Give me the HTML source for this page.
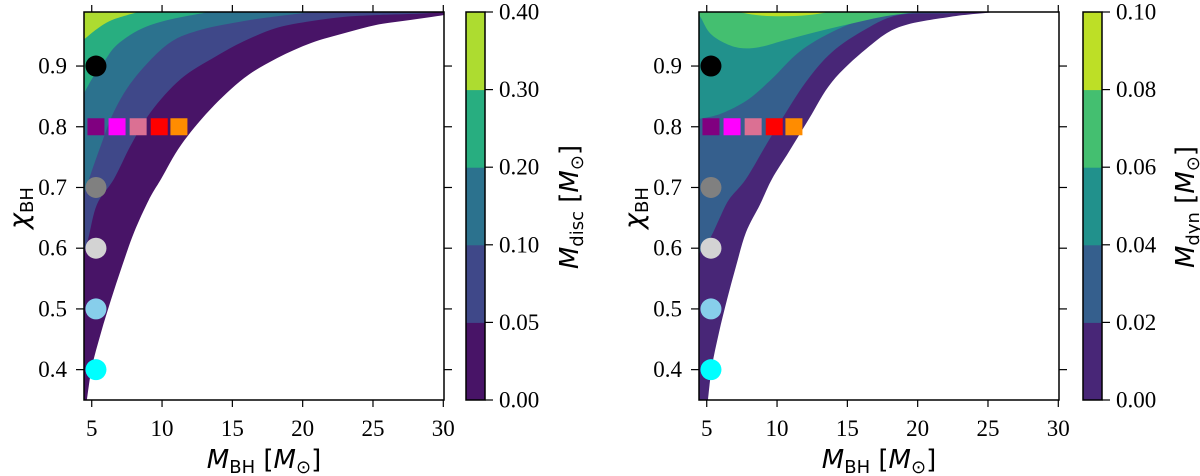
<!DOCTYPE html>
<html><head><meta charset="utf-8"><style>
html,body{margin:0;padding:0;background:#fff;width:1200px;height:476px;overflow:hidden}
</style></head><body>
<svg id="fig" width="1200" height="476" xmlns="http://www.w3.org/2000/svg"></svg>
<script>
// ---- data ----
const xTicks=[5,10,15,20,25,30];
const yTicks=[0.4,0.5,0.6,0.7,0.8,0.9];
const circleChi=[0.9,0.7,0.6,0.5,0.4];
const circleColors=["#000000","#808080","#d3d3d3","#87ceeb","#00ffff"];
const circleM=5.3;
const squareM=[5.3,6.8,8.3,9.8,11.2];
const squareColors=["#800080","#ff00ff","#db7093","#ff0000","#ff8c00"];
const squareChi=0.8;
// left panel boundaries (M, chi)
const discOuterM=[31.19,30.05,27.71,25.29,22.94,20.6,18.18,15.83,13.41,11.35,9.93,9.07,8.01,7.15,6.37,5.66,5.02,4.66,4.59];
const discOuterChi=[0.991,0.984,0.976,0.968,0.954,0.938,0.913,0.880,0.828,0.770,0.714,0.680,0.626,0.570,0.515,0.461,0.405,0.351,0.334];
const discLevelsM=[
 [30.13,28.85,25.29,22.94,20.6,18.18,15.83,13.77,11.35,9.22,7.79,6.58,5.37,4.73,4.17],
 [21.95,18.18,15.55,12.49,10.35,8.01,6.58,5.66,4.81,4.02],
 [14.12,10.64,8.50,6.80,5.87,5.02,4.02],
 [8.79,6.58,5.37,4.02]];
const discLevelsChi=[
 [0.991,0.987,0.984,0.981,0.974,0.963,0.941,0.915,0.879,0.825,0.770,0.714,0.672,0.614,0.573],
 [0.992,0.982,0.973,0.958,0.935,0.879,0.825,0.770,0.714,0.655],
 [0.992,0.977,0.961,0.935,0.907,0.879,0.836],
 [0.992,0.977,0.961,0.935]];
const discColors=["#481467","#3f4889","#2c728e","#28ae80","#addc30"];
const discTicks=["0.00","0.05","0.10","0.20","0.30","0.40"];
// right panel
const dynOuterM=[25.86,25.50,22.3,18.67,16.33,13.91,12.27,10.85,9.64,8.79,7.79,7.08,6.44,5.87,5.37,5.09,5.02];
const dynOuterChi=[0.991,0.989,0.981,0.964,0.928,0.874,0.813,0.759,0.714,0.672,0.626,0.570,0.515,0.461,0.405,0.351,0.334];
const dynLevelsM=[
 [25.15,22.3,18.67,16.33,13.91,12.06,10.35,9.22,7.79,6.58,5.87,5.30,4.66,3.81],
 [20.17,16.33,13.91,11.56,9.64,8.01,6.37,5.16,3.81],
 [3.81,4.45,5.16,6.09,7.30,8.72,10.64,12.77,15.12,17.46,19.88,20.88],
 [6.65,8.5,10.35,12.27,14.47]];
const dynLevelsChi=[
 [0.991,0.987,0.984,0.961,0.923,0.874,0.813,0.770,0.714,0.680,0.647,0.619,0.598,0.565],
 [0.991,0.977,0.956,0.923,0.879,0.846,0.825,0.816,0.811],
 [0.992,0.984,0.956,0.940,0.930,0.931,0.943,0.956,0.969,0.981,0.989,0.992],
 [0.992,0.984,0.982,0.984,0.992]];
const dynColors=["#482677","#355f8d","#21918c","#44bf70","#bddf26"];
const dynTicks=["0.00","0.02","0.04","0.06","0.08","0.10"];

const NS="http://www.w3.org/2000/svg";
const svg=document.getElementById('fig');
const SERIF='"Liberation Serif", "Times New Roman", serif';
const SANS='"DejaVu Sans", sans-serif';
function mk(tag,attrs,parent){const e=document.createElementNS(NS,tag);for(const k in attrs)e.setAttribute(k,attrs[k]);(parent||svg).appendChild(e);return e;}
function smooth(pts){
  let d=`M${pts[0][0]},${pts[0][1]}`;
  for(let i=0;i<pts.length-1;i++){const p0=pts[Math.max(0,i-1)],p1=pts[i],p2=pts[i+1],p3=pts[Math.min(pts.length-1,i+2)];
    d+=` C${p1[0]+(p2[0]-p0[0])/6},${p1[1]+(p2[1]-p0[1])/6} ${p2[0]-(p3[0]-p1[0])/6},${p2[1]-(p3[1]-p1[1])/6} ${p2[0]},${p2[1]}`;}
  return d;
}
function panel(o){
  const X0=o.x0,X1=o.x0+360,Y0=12,Y1=400,xmin=4.45,xmax=30.05,ymin=0.35,ymax=0.989;
  const sx=m=>X0+(m-xmin)/(xmax-xmin)*(X1-X0);
  const sy=c=>Y1-(c-ymin)/(ymax-ymin)*(Y1-Y0);
  const g=mk('g',{});
  
  
  const cid=o.name+'-clip';
  const cp=mk('clipPath',{id:cid},g);mk('rect',{x:X0,y:Y0,width:X1-X0,height:Y1-Y0},cp);
  const cg=mk('g',{'clip-path':`url(#${cid})`},g);
  let pts=o.outerM.map((m,i)=>[sx(m),sy(o.outerChi[i])]);
  let d=smooth(pts)+` L${X0-20},${Y1+20} L${X0-20},${Y0-20} L${X1+20},${Y0-20} L${X1+20},${pts[0][1]} Z`;
  let p=mk('path',{d:d,fill:o.colors[0]},cg);
  
  
  o.levM.forEach((arr,k)=>{
    const pp=arr.map((m,i)=>[sx(m),sy(o.levChi[k][i])]);
    const dd=smooth(pp)+` L${X0-20},${Y0-20} Z`;
    const e=mk('path',{d:dd,fill:o.colors[k+1]},cg);
    
    
  });
  circleChi.forEach((c,i)=>{const e=mk('circle',{cx:sx(circleM),cy:sy(c),r:10.5,fill:circleColors[i]},g);
    
    });
  squareM.forEach((m,i)=>{const e=mk('rect',{x:sx(m)-8.5,y:sy(squareChi)-8.5,width:17,height:17,fill:squareColors[i]},g);
    
    });
  mk('rect',{x:X0,y:Y0,width:X1-X0,height:Y1-Y0,fill:'none',stroke:'#000','stroke-width':1.5},g);
  xTicks.forEach(t=>{const x=sx(t);
    mk('line',{x1:x,x2:x,y1:Y1,y2:Y1+7,stroke:'#000','stroke-width':1.2},g);
    mk('line',{x1:x,x2:x,y1:Y0,y2:Y0-7,stroke:'#000','stroke-width':1.2},g);
    const tx=mk('text',{x:x,y:436,'font-size':23,'text-anchor':'middle','font-family':SERIF},g);tx.textContent=t;
    
    });
  yTicks.forEach(t=>{const y=sy(t);
    mk('line',{x1:X0,x2:X0-8,y1:y,y2:y,stroke:'#000','stroke-width':1.2},g);
    mk('line',{x1:X1,x2:X1+8,y1:y,y2:y,stroke:'#000','stroke-width':1.2},g);
    const tx=mk('text',{x:X0-17,y:y+7.5,'font-size':23,'text-anchor':'end','font-family':SERIF},g);tx.textContent=t.toFixed(1);
    
    });
  const xt=mk('text',{x:(X0+X1)/2,y:468,'font-size':26,'text-anchor':'middle','font-family':SANS},g);
  xt.innerHTML='<tspan font-style="italic">M</tspan><tspan font-size="18" dy="5">BH</tspan><tspan dy="-5"> [</tspan><tspan font-style="italic">M</tspan><tspan font-size="18" dy="5">⊙</tspan><tspan dy="-5">]</tspan>';
  
  
  const yt=mk('text',{transform:`translate(${X0-56},208) rotate(-90)`,'font-size':27,'text-anchor':'middle','font-family':SANS},g);
  yt.innerHTML='<tspan font-style="italic">χ</tspan><tspan font-size="18" dy="5">BH</tspan>';
  
  
  const cx0=o.cb,cw=19,seg=(Y1-Y0)/5;
  const cbg=mk('g',{},g);
  
  
  o.colors.forEach((c,i)=>mk('rect',{x:cx0,y:Y1-(i+1)*seg,width:cw,height:seg+0.5,fill:c},cbg));
  mk('rect',{x:cx0,y:Y0,width:cw,height:Y1-Y0,fill:'none',stroke:'#000','stroke-width':1.5},cbg);
  o.ticks.forEach((t,i)=>{const y=Y1-i*seg;
    mk('line',{x1:cx0+cw,x2:cx0+cw+8,y1:y,y2:y,stroke:'#000','stroke-width':1.2},cbg);
    const tx=mk('text',{x:cx0+cw+14,y:y+7.5,'font-size':23,'font-family':SERIF},cbg);tx.textContent=t;
    
    });
  const ct=mk('text',{transform:`translate(${o.cbt},207) rotate(-90)`,'font-size':26,'text-anchor':'middle','font-family':SANS},g);
  ct.innerHTML='<tspan font-style="italic">M</tspan><tspan font-size="18" dy="5">'+o.sub+'</tspan><tspan dy="-5"> [</tspan><tspan font-style="italic">M</tspan><tspan font-size="18" dy="5">⊙</tspan><tspan dy="-5">]</tspan>';
  
  
}
panel({name:'disc',x0:84,cb:466,cbt:578,outerM:discOuterM,outerChi:discOuterChi,levM:discLevelsM,levChi:discLevelsChi,colors:discColors,ticks:discTicks,sub:'disc'});
panel({name:'dyn',x0:699,cb:1083,cbt:1194,outerM:dynOuterM,outerChi:dynOuterChi,levM:dynLevelsM,levChi:dynLevelsChi,colors:dynColors,ticks:dynTicks,sub:'dyn'});
</script>
</body></html>
